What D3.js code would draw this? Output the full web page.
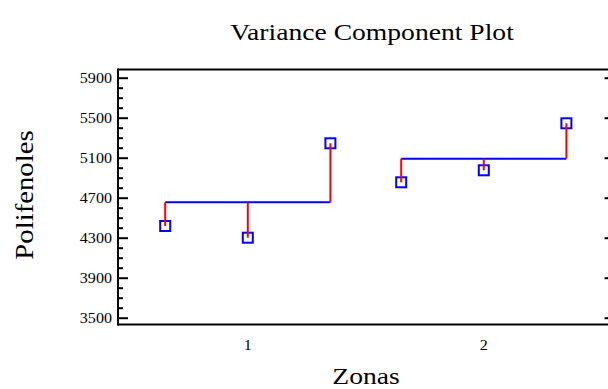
<!DOCTYPE html>
<html><head><meta charset="utf-8">
<script src="https://cdn.jsdelivr.net/npm/d3@7"></script>
<style>body{margin:0;background:#fff}svg{display:block}text{font-family:"Liberation Serif","Times New Roman",serif;fill:#000}</style>
</head><body>
<svg id="c" width="608" height="389"></svg>
<script>
const groups = [1, 2];
const groupLabels = ["1", "2"];
const values = [
  [4417, 4300, 5244],
  [4854, 4974, 5444]
];
const yMajorTicks = [3500, 3900, 4300, 4700, 5100, 5500, 5900];
const yMinorTicks = d3.range(3500, 5901, 100);
const title = "Variance Component Plot";
const xTitle = "Zonas";
const yTitle = "Polifenoles";

(function () {
const svg = d3.select("#c");
const pL = 118, pR = 613.6, pT = 69.5, pB = 324.5;
const x = d3.scaleLinear().domain([0.45, 2.55]).range([pL, pR]);
const y = d3.scaleLinear().domain([3432, 5982]).range([pB, pT]);
const offset = 0.35;
const sx = 1.15;

// frame
svg.append("line").attr("x1", pL).attr("x2", pR).attr("y1", pT).attr("y2", pT).attr("stroke", "#000").attr("stroke-width", 2);
svg.append("line").attr("x1", pL).attr("x2", pR).attr("y1", pB).attr("y2", pB).attr("stroke", "#000").attr("stroke-width", 2);
svg.append("line").attr("x1", pR).attr("x2", pR).attr("y1", pT).attr("y2", pB).attr("stroke", "#000").attr("stroke-width", 2);

// left axis
const yAxis = d3.axisLeft(y).tickValues(yMajorTicks).tickSize(-10).tickPadding(0).tickFormat(d3.format("d"));
const ga = svg.append("g").attr("transform", `translate(${pL},0)`).call(yAxis);
ga.select(".domain").remove();
ga.selectAll(".tick line").attr("stroke", "#000").attr("stroke-width", 2);
ga.selectAll(".tick text").attr("font-size", 14).attr("font-family", "Liberation Serif").attr("x", 0)
  .attr("transform", `translate(-6,0) scale(${sx},1)`).attr("text-anchor", "end");
const gm = svg.append("g").attr("transform", `translate(${pL},0)`)
  .call(d3.axisLeft(y).tickValues(yMinorTicks.filter(v => !yMajorTicks.includes(v))).tickSize(-5).tickFormat(""));
gm.select(".domain").remove();
gm.selectAll(".tick line").attr("stroke", "#000").attr("stroke-width", 2);
svg.append("line").attr("x1", pL).attr("x2", pL).attr("y1", pT - 1).attr("y2", pB + 1).attr("stroke", "#000").attr("stroke-width", 2);

// right axis ticks
const gr = svg.append("g").attr("transform", `translate(${pR},0)`)
  .call(d3.axisRight(y).tickValues(yMajorTicks).tickSize(-9).tickFormat(""));
gr.select(".domain").remove();
gr.selectAll(".tick line").attr("stroke", "#000").attr("stroke-width", 2);

// bottom labels
svg.append("g").selectAll("text").data(groups).join("text")
  .attr("transform", d => `translate(${x(d)},350) scale(${sx},1)`)
  .attr("text-anchor", "middle").attr("font-size", 14).text((d, i) => groupLabels[i]);

// data marks
groups.forEach((g, gi) => {
  const vals = values[gi];
  const m = d3.mean(vals);
  const xs = vals.map((v, i) => x(g + (i - 1) * offset));
  svg.append("line").attr("x1", xs[0]).attr("x2", xs[xs.length - 1]).attr("y1", y(m)).attr("y2", y(m))
    .attr("stroke", "#0000ff").attr("stroke-width", 2);
  vals.forEach((v, i) => {
    svg.append("rect").attr("x", xs[i] - 5).attr("y", y(v) - 5).attr("width", 10).attr("height", 10)
      .attr("fill", "none").attr("stroke", "#0000ff").attr("stroke-width", 2);
  });
  vals.forEach((v, i) => {
    svg.append("line").attr("x1", xs[i]).attr("x2", xs[i]).attr("y1", y(m)).attr("y2", y(v))
      .attr("stroke", "#ff0000").attr("stroke-width", 2);
  });
});

// titles
svg.append("text").attr("transform", `translate(372,40) scale(${sx},1)`).attr("text-anchor", "middle").attr("font-size", 24).text(title);
svg.append("text").attr("transform", `translate(366,384) scale(${sx},1)`).attr("text-anchor", "middle").attr("font-size", 24).text(xTitle);
svg.append("text").attr("transform", `translate(33,195) rotate(-90) scale(${sx},1)`).attr("text-anchor", "middle").attr("font-size", 25).text(yTitle);
})();
</script>
</body></html>
